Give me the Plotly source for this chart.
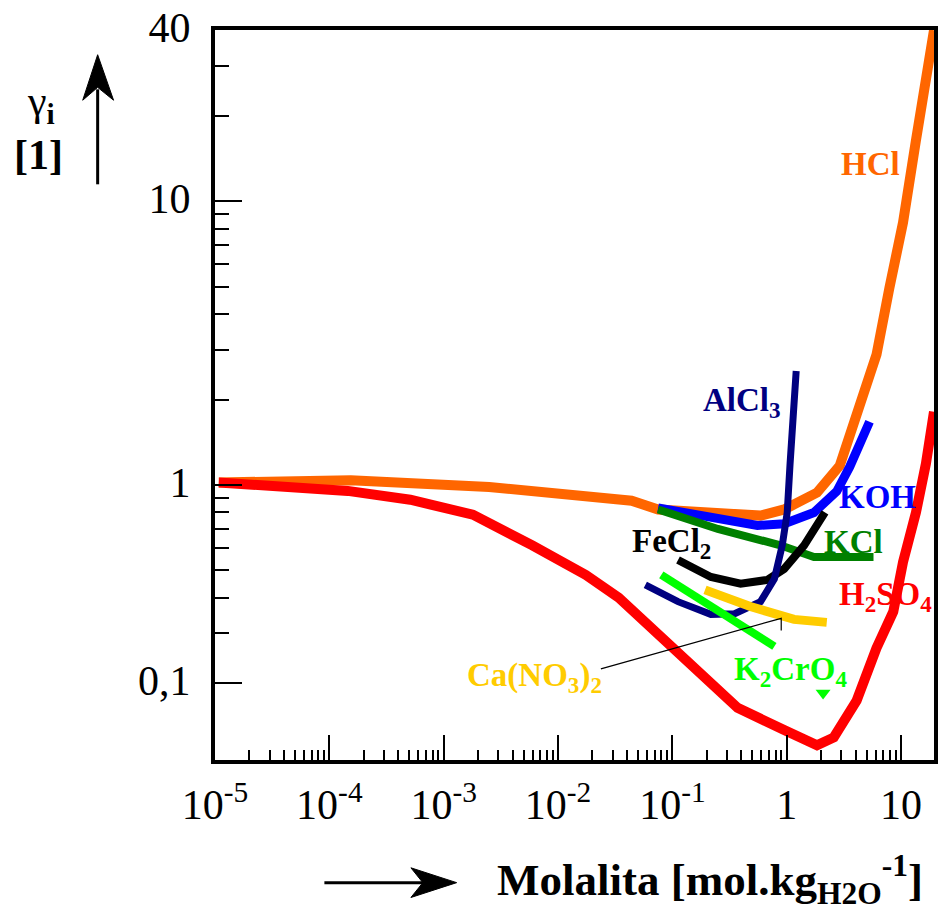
import numpy as np
import plotly.graph_objects as go

# ---------------- data (molality [mol/kg], activity coefficient [-]) ----------------
hcl_m = [1.08e-5, 1.54e-4, 2.5e-3, 0.044, 0.075, 0.59, 0.95, 1.84, 2.91, 3.56, 6.1, 7.9, 10.4, 13.5, 16.5, 19.4]
hcl_g = [1.02, 1.04, 0.984, 0.88, 0.82, 0.78, 0.82, 0.94, 1.17, 1.48, 2.88, 4.94, 8.4, 16.4, 27.9, 40.0]

h2so4_m = [1.08e-5, 1.45e-4, 5.1e-4, 1.8e-3, 5.96e-3, 0.0175, 0.0339, 0.058, 0.112, 0.287, 0.372, 0.95,
           1.84, 2.58, 4.09, 6.09, 8.55, 10.4, 13.5, 16.5, 19.4]
h2so4_g = [1.02, 0.953, 0.887, 0.786, 0.613, 0.482, 0.401, 0.33, 0.26, 0.184, 0.164, 0.137,
           0.121, 0.129, 0.174, 0.266, 0.358, 0.535, 0.80, 1.19, 1.81]

koh_m = [0.075, 0.168, 0.555, 0.95, 1.73, 2.74, 3.56, 5.3]
koh_g = [0.83, 0.78, 0.72, 0.73, 0.80, 0.95, 1.16, 1.67]

kcl_m = [0.075, 0.25, 0.88, 1.73, 5.74]
kcl_g = [0.82, 0.70, 0.613, 0.557, 0.557]

fecl2_m = [0.112, 0.217, 0.395, 0.678, 0.95, 1.42, 2.16]
fecl2_g = [0.544, 0.474, 0.449, 0.463, 0.506, 0.613, 0.80]

alcl3_m = [0.058, 0.112, 0.217, 0.35, 0.59, 0.78, 0.914, 1.01, 1.07, 1.14, 1.21]
alcl3_g = [0.445, 0.388, 0.35, 0.352, 0.388, 0.467, 0.613, 0.80, 1.19, 1.64, 2.52]

k2cro4_m = [0.080, 0.78]
k2cro4_g = [0.482, 0.270]
k2cro4_mark_m = [2.08]
k2cro4_mark_g = [0.185]

cano3_m = [0.193, 0.48, 1.16, 2.24]
cano3_g = [0.427, 0.373, 0.336, 0.328]

leader_m = [0.0237, 0.895, 0.895]
leader_g = [0.225, 0.339, 0.307]

x_tick_vals = [1e-5, 1e-4, 1e-3, 1e-2, 1e-1, 1, 10]
x_tick_text = ["10<sup>-5</sup>", "10<sup>-4</sup>", "10<sup>-3</sup>", "10<sup>-2</sup>",
               "10<sup>-1</sup>", "1", "10"]
y_tick_vals = [0.2, 1, 10, 40]
y_tick_text = ["0,1", "1", "10", "40"]

x_minor = [k * 10.0 ** d for d in range(-5, 1) for k in range(2, 10)]
y_minor = [0.3, 0.4, 0.5, 0.6, 0.7, 0.8, 0.9, 2, 3, 4, 5, 6, 7, 8, 9, 20, 30]

FONT = "Liberation Serif"

series = [
    ("HCl", hcl_m, hcl_g, "#FF6600", 10),
    ("H2SO4", h2so4_m, h2so4_g, "#FF0000", 10),
    ("KOH", koh_m, koh_g, "#0000FF", 9),
    ("KCl", kcl_m, kcl_g, "#008000", 8),
    ("FeCl2", fecl2_m, fecl2_g, "#000000", 8),
    ("AlCl3", alcl3_m, alcl3_g, "#000080", 7),
    ("Ca(NO3)2", cano3_m, cano3_g, "#FFCC00", 9),
    ("K2CrO4", k2cro4_m, k2cro4_g, "#00FF00", 8),
]

fig = go.Figure()
for name, xm, yg, col, w in series:
    fig.add_trace(go.Scatter(x=xm, y=yg, mode="lines", name=name,
                             line=dict(color=col, width=w), hoverinfo="skip", showlegend=False))
fig.add_trace(go.Scatter(x=k2cro4_mark_m, y=k2cro4_mark_g, mode="markers",
                         marker=dict(symbol="triangle-down", size=13, color="#00FF00"),
                         hoverinfo="skip", showlegend=False))
fig.add_trace(go.Scatter(x=leader_m, y=leader_g, mode="lines",
                         line=dict(color="black", width=1.2), hoverinfo="skip", showlegend=False))

# series labels (molality, gamma)
labels = [
    ("<b>HCl</b>", 5.4, 13.5, "#FF6600"),
    ("<b>AlCl<sub>3</sub></b>", 0.41, 1.95, "#000080"),
    ("<b>KOH</b>", 6.2, 0.91, "#0000FF"),
    ("<b>KCl</b>", 3.8, 0.63, "#008000"),
    ("<b>FeCl<sub>2</sub></b>", 0.098, 0.62, "#000000"),
    ("<b>H<sub>2</sub>SO<sub>4</sub></b>", 7.3, 0.405, "#FF0000"),
    ("<b>K<sub>2</sub>CrO<sub>4</sub></b>", 1.07, 0.22, "#00FF00"),
    ("<b>Ca(NO<sub>3</sub>)<sub>2</sub></b>", 0.0062, 0.21, "#FFCC00"),
]
annotations = []
for txt, lx, ly, col in labels:
    annotations.append(dict(text=txt, x=np.log10(lx), y=np.log10(ly), xref="x", yref="y",
                            showarrow=False, xanchor="center", yanchor="middle",
                            font=dict(family=FONT, size=33, color=col)))

# plot area in pixels
L, R, T, B = 215, 938, 22, 760


def P(px, py):
    return (px - L) / (R - L), (B - py) / (B - T)


annotations += [
    dict(text="γ<b><sub>i</sub></b>", x=P(40, 0)[0], y=P(0, 97)[1], xref="paper", yref="paper",
         showarrow=False, xanchor="center", yanchor="middle",
         font=dict(family=FONT, size=42, color="black")),
    dict(text="<b>[1]</b>", x=P(38, 0)[0], y=P(0, 148)[1], xref="paper", yref="paper",
         showarrow=False, xanchor="center", yanchor="middle",
         font=dict(family=FONT, size=42, color="black")),
    dict(text="<b>Molalita [mol.kg<sub>H2O</sub><sup>-1</sup>]</b>", x=P(497, 0)[0], y=P(0, 881)[1],
         xref="paper", yref="paper", showarrow=False, xanchor="left", yanchor="middle",
         font=dict(family=FONT, size=45, color="black")),
]


def path(pts):
    s = ""
    for i, (px, py) in enumerate(pts):
        x, y = P(px, py)
        s += ("M" if i == 0 else "L") + f"{x:.5f},{y:.5f} "
    return s + "Z"


shapes = []
# vertical arrow (y axis title)
x0, y0 = P(97, 178)
x1, y1 = P(97, 82)
shapes.append(dict(type="line", xref="paper", yref="paper", x0=x0, y0=y0, x1=x1, y1=y1,
                   line=dict(color="black", width=3)))
shapes.append(dict(type="path", xref="paper", yref="paper",
                   path=path([(97, 47), (113, 93), (97, 80), (82, 93)]),
                   fillcolor="black", line=dict(color="black", width=1)))
# horizontal arrow (x axis title)
x0, y0 = P(325, 884)
x1, y1 = P(428, 884)
shapes.append(dict(type="line", xref="paper", yref="paper", x0=x0, y0=y0, x1=x1, y1=y1,
                   line=dict(color="black", width=3)))
shapes.append(dict(type="path", xref="paper", yref="paper",
                   path=path([(458, 884), (412, 899), (424, 884), (412, 869)]),
                   fillcolor="black", line=dict(color="black", width=1)))

axis_common = dict(showgrid=False, zeroline=False, showline=True, linecolor="black", linewidth=4,
                   mirror=True, ticks="inside", tickwidth=2, tickcolor="black",
                   ticklabeloverflow="allow",
                   tickfont=dict(family=FONT, size=42, color="black"))

fig.update_layout(
    width=943, height=914, autosize=False,
    margin=dict(l=L, r=943 - R, t=T, b=914 - B, pad=0),
    paper_bgcolor="white", plot_bgcolor="white",
    xaxis=dict(type="log", range=[-5, 1.288], tickvals=x_tick_vals, ticktext=x_tick_text,
               ticklen=25, ticklabelstandoff=5,
               minor=dict(tickvals=x_minor, ticks="inside", ticklen=10, tickwidth=2,
                          tickcolor="black", showgrid=False),
               **axis_common),
    yaxis=dict(type="log", range=[-0.969, 1.603], tickvals=y_tick_vals, ticktext=y_tick_text,
               ticklen=27, ticklabelstandoff=12, ticklabelshift=-3,
               minor=dict(tickvals=y_minor, ticks="inside", ticklen=14, tickwidth=2,
                          tickcolor="black", showgrid=False),
               **axis_common),
    annotations=annotations, shapes=shapes,
)

fig.write_html("out.html")
